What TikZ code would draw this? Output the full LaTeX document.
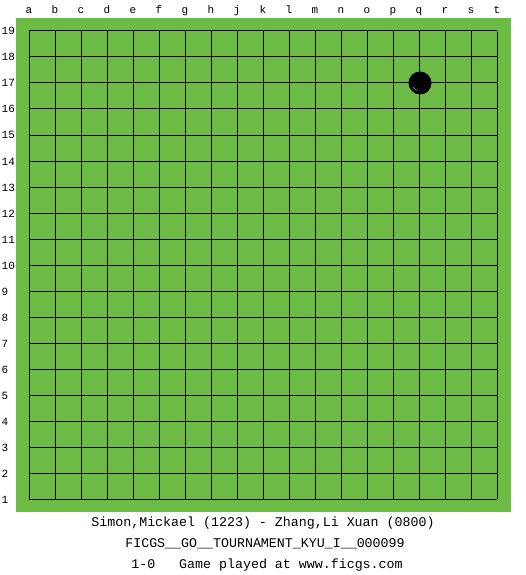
\documentclass[tikz,border=0pt]{standalone}
\usepackage{fontspec}
\setmonofont{Liberation Mono}
\definecolor{boardgreen}{RGB}{108,187,69}
\tikzset{
  lbl/.style={font=\ttfamily\fontsize{11}{11}\selectfont, inner sep=0pt},
  info/.style={font=\ttfamily\fontsize{13.3}{13.3}\selectfont, inner sep=0pt, anchor=center},
  gridline/.style={black, line width=1pt},
  stone/.style={circle, fill=black, minimum size=23pt, inner sep=0pt}
}
\begin{document}
\begin{tikzpicture}[x=1pt,y=-1pt]
\useasboundingbox (0,0) rectangle (525,575);
\fill[white] (0,0) rectangle (525,575);
\fill[boardgreen] (16,18) rectangle (511,512);
\foreach \i in {0,...,18} {
  \draw[gridline] ({29+26*\i},31) -- ({29+26*\i},499);
  \draw[gridline] (29,{31+26*\i}) -- (497,{31+26*\i});
}
\foreach \l [count=\k from 0] in {a,b,c,d,e,f,g,h,j,k,l,m,n,o,p,q,r,s,t} {
  \node[lbl, anchor=base] (col\l) at ({29+26*\k},14) {\l};
}
\foreach \r in {1,...,19} {
  \node[lbl, anchor=base west] (row\r) at (1.5,{35+26*(19-\r)}) {\r};
}
\node[stone] (q17) at (420,83) {};
\draw[white!60!black, line width=0.6pt] (420,83) ++(150:8) arc (150:110:8);
\node[info] (players) at (263,523) {Simon,Mickael (1223) - Zhang,Li Xuan (0800)};
\node[info] (event) at (265,544) {FICGS\_\_GO\_\_TOURNAMENT\_KYU\_I\_\_000099};
\node[info] (result) at (267,565) {1-0\ \ \ Game played at www.ficgs.com};
\end{tikzpicture}
\end{document}
